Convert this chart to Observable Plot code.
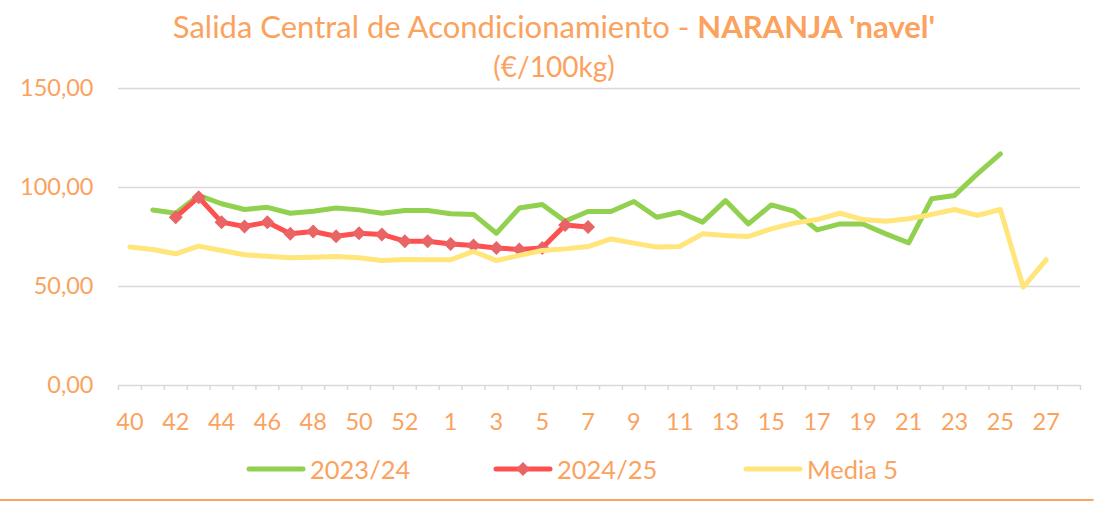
<!DOCTYPE html>
<html><head><meta charset="utf-8">
<script src="https://cdn.jsdelivr.net/npm/d3@7"></script>
<script src="https://cdn.jsdelivr.net/npm/@observablehq/plot@0.6"></script>
<style>
body{margin:0;background:#fff;}
#wrap{position:relative;width:1101px;height:505px;overflow:hidden;font-family:Lato,"Noto Sans",sans-serif;color:#FBA25E;}
#t1{position:absolute;top:6px;left:0;width:1108px;text-align:center;font-size:31px;white-space:nowrap;line-height:40px;}
#t2{position:absolute;top:47px;left:0;width:1108px;text-align:center;font-size:28px;line-height:38px;}
#chart{position:absolute;top:0;left:0;}
.leg{position:absolute;top:454px;font-size:25.5px;display:flex;align-items:center;white-space:nowrap;}
.leg svg{margin-right:4px;}
#bottom{position:absolute;left:0;top:499px;width:1094px;height:0;border-bottom:2px solid #F6A565;border-bottom-right-radius:8px;}
</style></head>
<body><div id="wrap">
<div id="t1">Salida Central de Acondicionamiento - <b>NARANJA 'navel'</b></div>
<div id="t2">(€/100kg)</div>
<div id="chart"></div>
<div class="leg" style="left:246px"><svg width="60" height="14"><line x1="3" x2="57" y1="7" y2="7" stroke="#92D050" stroke-width="5" stroke-linecap="round"/></svg>2023/24</div>
<div class="leg" style="left:493px"><svg width="60" height="16"><line x1="3" x2="57" y1="8" y2="8" stroke="#FF5050" stroke-width="5" stroke-linecap="round"/><path d="M30 1 L37 8 L30 15 L23 8Z" fill="#E96464"/></svg>2024/25</div>
<div class="leg" style="left:743px"><svg width="60" height="14"><line x1="3" x2="57" y1="7" y2="7" stroke="#FFE57A" stroke-width="5" stroke-linecap="round"/></svg>Media 5</div>
<div id="bottom"></div>
</div>
<script>
const weeks = ["40","41","42","43","44","45","46","47","48","49","50","51","52","53",
  "1","2","3","4","5","6","7","8","9","10","11","12","13","14","15","16","17","18","19","20",
  "21","22","23","24","25","26","27","28"];
const s2324 = [null,88.6,87,96,91.8,88.9,90,87,88,89.6,88.7,87,88.4,88.4,
  86.7,86.4,76.9,89.6,91.4,83,87.9,87.9,92.9,85,87.5,82.5,93.4,81.6,91.2,88,78.6,81.6,81.6,76.6,
  72,94.3,96,106.9,117,null,null,null];
const s2425 = [null,null,85,95.1,82.5,80.3,82.5,76.6,77.8,75.4,76.9,76.3,72.9,72.9,
  71.5,70.7,69.5,68.7,69.5,81.1,80,null,null,null,null,null,null,null,null,null,null,null,null,null,
  null,null,null,null,null,null,null,null];
const media5 = [69.9,68.7,66.5,70.4,68.2,66,65.3,64.5,64.8,65.2,64.5,63.1,63.6,63.5,
  63.5,67.7,63.1,65.7,68.2,69,70.2,74,71.9,69.9,70.2,76.6,75.8,75.3,79.1,82,83.8,87,83.8,83,
  84.2,86.4,88.9,85.9,88.9,49.7,63.5,null];
const yTicks = [0,50,100,150];

const rows = (arr) => weeks.map((w,i)=>({i, week:w, v: arr[i]}));
const labelIdx = weeks.map((w,i)=>i).filter(i=>i%2===0);
const bounds = weeks.map((w,i)=>i-0.5).concat([weeks.length-0.5]);

const chart = Plot.plot({
  width: 1101, height: 440,
  marginLeft: 118, marginRight: 21, marginTop: 88, marginBottom: 55,
  style: {fontFamily: "Lato, 'Noto Sans', sans-serif", color: "#FBA25E", background: "transparent", overflow: "visible"},
  x: {type: "linear", domain: [-0.5, weeks.length-0.5], axis: null},
  y: {domain: [0,150], axis: null},
  marks: [
    Plot.gridY(yTicks, {stroke: "#D9D9D9", strokeOpacity: 1, strokeWidth: 1.5}),
    Plot.axisX(bounds, {tickSize: 5, tickFormat: () => "", label: null, stroke: "#D9D9D9", strokeWidth: 1.5, strokeOpacity:1}),
    Plot.axisX(labelIdx, {tickSize: 0, tickPadding: 28, label: null, tickFormat: i => weeks[i], fontSize: 23.5, fill: "#FBA25E"}),
    Plot.axisY(yTicks, {tickSize: 0, tickPadding: 25, label: null, tickFormat: d => d3.format(".2f")(d).replace(".", ","), fontSize: 23.5, fill: "#FBA25E"}),
    Plot.line(rows(s2324), {x: "i", y: "v", stroke: "#92D050", strokeWidth: 5, strokeLinejoin: "round", strokeLinecap: "round"}),
    Plot.line(rows(s2425), {x: "i", y: "v", stroke: "#FF5050", strokeWidth: 5, strokeLinejoin: "round", strokeLinecap: "round"}),
    Plot.dot(rows(s2425).filter(d => d.v != null), {x: "i", y: "v", symbol: "diamond2", r: 6.3, fill: "#E96464"}),
    Plot.line(rows(media5), {x: "i", y: "v", stroke: "#FFE57A", strokeWidth: 5, strokeLinejoin: "round", strokeLinecap: "round"})
  ]
});
document.getElementById("chart").appendChild(chart);
</script>
</body></html>
